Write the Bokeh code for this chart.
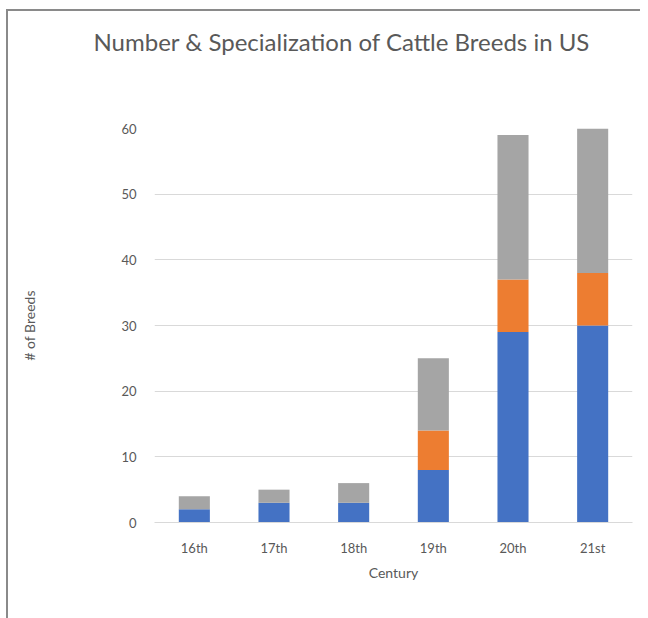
from bokeh.plotting import figure
from bokeh.models import Range1d, FactorRange, Legend, LegendItem, FixedTicker, ColumnDataSource, Title
from bokeh.embed import file_html
from bokeh.resources import INLINE

centuries = ["16th", "17th", "18th", "19th", "20th", "21st"]
meat = [2, 3, 3, 8, 29, 30]
milk = [0, 0, 0, 6, 8, 8]
multiple = [2, 2, 3, 11, 22, 22]
series = ["Meat", "Milk", "Multiple"]
colors = ["#4472C4", "#ED7D31", "#A5A5A5"]
y_ticks = [0, 10, 20, 30, 40, 50, 60]

FONT = "Lato"
TXT = "#595959"

src = ColumnDataSource(dict(century=centuries, Meat=meat, Milk=milk, Multiple=multiple))

p = figure(x_range=FactorRange(*centuries, range_padding=0), y_range=Range1d(0, 60),
           title=None,
           frame_width=478, frame_height=394,
           min_border_left=146, min_border_right=8, min_border_top=117, min_border_bottom=85,
           output_backend="svg", toolbar_location=None, tools="")

rs = p.vbar_stack(series, x="century", width=0.39, color=colors, source=src, line_width=0)

# spacer (closest to the frame) then the real title above it
spacer = Title(text=" ", text_font_size="1px", standoff=68, text_color="white")
p.add_layout(spacer, "above")
title = Title(text="Number & Specialization of Cattle Breeds in US",
              text_font=FONT, text_font_size="24px", text_font_style="normal",
              text_color=TXT, align="left", offset=-61, vertical_align="top", standoff=0)
p.add_layout(title, "above")

p.outline_line_color = None
p.background_fill_color = "white"
p.border_fill_color = "white"
p.xgrid.grid_line_color = None
p.ygrid.grid_line_color = "#D9D9D9"
p.ygrid.grid_line_width = 1
p.yaxis.ticker = FixedTicker(ticks=y_ticks)

p.yaxis.axis_line_color = None
p.yaxis.major_tick_line_color = None
p.yaxis.minor_tick_line_color = None
p.yaxis.major_label_text_color = TXT
p.yaxis.major_label_text_font = FONT
p.yaxis.major_label_text_font_size = "13px"
p.yaxis.major_label_standoff = 12
p.yaxis.axis_label = "# of Breeds"
p.yaxis.axis_label_text_font = FONT
p.yaxis.axis_label_text_font_size = "14px"
p.yaxis.axis_label_text_font_style = "normal"
p.yaxis.axis_label_text_color = TXT
p.yaxis.axis_label_standoff = 80

p.xaxis.axis_line_color = "#D9D9D9"
p.xaxis.major_tick_line_color = None
p.xaxis.minor_tick_line_color = None
p.xaxis.major_label_text_color = TXT
p.xaxis.major_label_text_font = FONT
p.xaxis.major_label_text_font_size = "13px"
p.xaxis.major_label_standoff = 11
p.xaxis.axis_label = "Century"
p.xaxis.axis_label_text_font = FONT
p.xaxis.axis_label_text_font_size = "14px"
p.xaxis.axis_label_text_font_style = "normal"
p.xaxis.axis_label_text_color = TXT
p.xaxis.axis_label_standoff = 5

legend = Legend(items=[LegendItem(label=s, renderers=[r]) for s, r in zip(series, rs)],
                orientation="horizontal", location="center", margin=4,
                glyph_width=9, glyph_height=9, label_height=14, label_standoff=4, spacing=14,
                padding=0, border_line_color=None, background_fill_alpha=0,
                label_text_font=FONT, label_text_font_size="13px", label_text_color=TXT)
p.add_layout(legend, "below")

p.margin = (9, 0, 0, 6)
p.styles = {"border-top": "2px solid #8A8A8A", "border-left": "2px solid #8A8A8A"}

open("out.html", "w").write(file_html(p, INLINE))
